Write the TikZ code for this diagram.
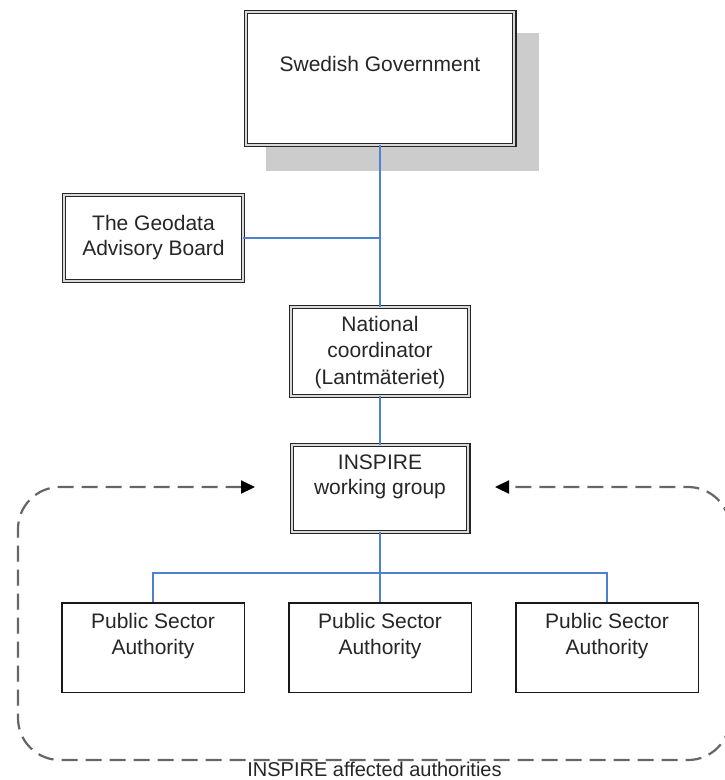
\documentclass[tikz,border=0pt]{standalone}
\usepackage{fontspec}
\setmainfont{Liberation Sans}
\usetikzlibrary{arrows.meta}
\definecolor{lineblue}{RGB}{79,129,209}
\begin{document}
\begin{tikzpicture}[x=1pt,y=-1pt,
  dbox/.style={draw=black!85, double=black!15, double distance=1.8pt, line width=1.3pt, fill=white, inner sep=0pt},
  sbox/.style={draw=black!90, line width=1.5pt, fill=white, inner sep=0pt, minimum width=182.5pt, minimum height=89.5pt},
  txt/.style={anchor=north, inner sep=0pt, align=center, font=\fontsize{21}{25.5}\selectfont, text=black!85},
  conn/.style={draw=lineblue, line width=1.3pt},
  grp/.style={draw=black!60, line width=2.2pt, dash pattern=on 16pt off 8pt, rounded corners=42pt},
  tip/.style={arrows={Triangle[length=14pt,width=13pt,color=black]-Triangle[length=14pt,width=13pt,color=black]}}
]
\useasboundingbox (0,0) rectangle (724,780);
% shadow of the government box
\fill[black!20] (266,33) rectangle (539,171);
% boxes
\node[dbox, minimum width=268.6pt, minimum height=132.6pt] (gov) at (380,78.5) {};
\node[dbox, minimum width=178.6pt, minimum height=85.6pt] (geo) at (153.5,238) {};
\node[dbox, minimum width=177.6pt, minimum height=88.6pt] (nat) at (380,351.5) {};
\node[dbox, minimum width=176.6pt, minimum height=86.6pt] (wg) at (380,488.5) {};
\node[sbox] (pub1) at (153,647.5) {};
\node[sbox] (pub2) at (380,647.5) {};
\node[sbox] (pub3) at (607,647.5) {};
% texts
\node[txt] (govtext) at (380,56) {Swedish Government};
\node[txt] (geotext) at (153.5,215) {The Geodata\\Advisory Board};
\node[txt, font=\fontsize{21}{26.5}\selectfont] (nattext) at (380,316) {National\\coordinator\\(Lantmäteriet)};
\node[txt] (wgtext) at (380,454.5) {INSPIRE\\working group};
\node[txt] (pubtext1) at (153,613.5) {Public Sector\\Authority};
\node[txt] (pubtext2) at (380,613.5) {Public Sector\\Authority};
\node[txt] (pubtext3) at (607,613.5) {Public Sector\\Authority};
\node[anchor=north, inner sep=0pt, font=\fontsize{20}{22}\selectfont, text=black!85, text depth=0pt] (grplabel) at (374.5,762) {INSPIRE affected authorities};
% connectors
\draw[conn] (gov.south) -- (nat.north);
\draw[conn] (geo.east) -- (geo.east -| gov.south);
\draw[conn] (nat.south) -- (wg.north);
\draw[conn] (wg.south) -- (pub2.north);
\coordinate (junc) at (380,573);
\draw[conn] (pub1.north) |- (junc) -| (pub3.north);
% dashed group outline with arrows
\coordinate (arrL) at (255,487);
\coordinate (arrR) at (495,487);
\draw[grp, tip] (arrL) -- (18,487) -- (18,760) -- (730,760) -- (730,487) -- (arrR);
\end{tikzpicture}
\end{document}
